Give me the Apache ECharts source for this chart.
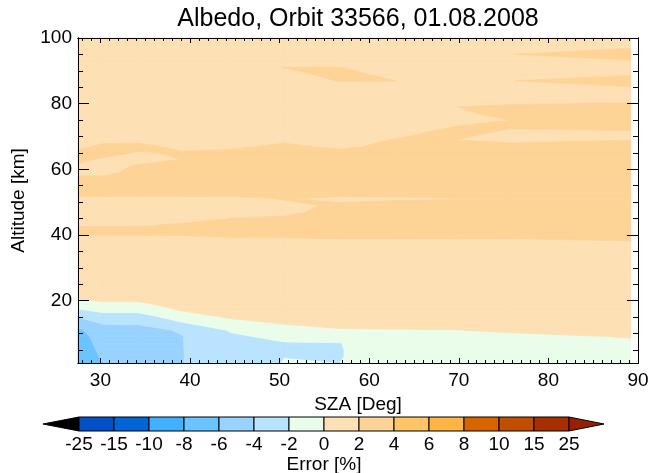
<!DOCTYPE html>
<html><head><meta charset="utf-8">
<script src="https://cdn.jsdelivr.net/npm/echarts@6/dist/echarts.min.js"></script>
<style>html,body{margin:0;padding:0;background:#fff}#c{width:650px;height:473px}</style>
</head><body><div id="c"></div>
<script>
// ---- data ----
const szaList = [27.5, 30.3, 34.2, 39.1, 44.6, 50.5, 56.7, 62.9, 69.4, 75.8, 89.2];
const altList = [1,3,5,7,9,11,13,15,17,19,21,23,25,27,29,31,33,35,37,39,41,43,45,47,49,51,53,55,57,59,61,63,65,67,69,71,73,75,77,79,81,83,85,87,89,91,93,95,97,99,100];
// error [%] per altitude row (rows follow altList), columns follow szaList
const errGrid = [
  [-7.5,-5.9,-5.4,-4.05,-2.9,-1.95,-2.005,-0.8,-0.7,-0.6,-0.5],
  [-7.5,-5.7,-5.3,-4.05,-2.9,-2.02,-2.1,-0.8,-0.7,-0.6,-0.5],
  [-7.2,-5.5,-5.2,-4.05,-2.8,-2.2,-2.1,-0.8,-0.6,-0.5,-0.4],
  [-7.0,-5.3,-5.0,-4.05,-2.6,-2.1,-2.05,-0.7,-0.5,-0.4,-0.2],
  [-6.8,-5.1,-4.8,-4.05,-2.3,-1.6,-1.5,-0.5,-0.4,-0.3,0.05],
  [-6.4,-4.6,-4.5,-3.85,-1.8,-0.8,-0.2,-0.1,-0.05,0.2,0.5],
  [-5.4,-3.9,-3.9,-2.2,-0.9,0.1,0.6,0.6,0.6,0.7,0.8],
  [-3.9,-2.8,-2.8,-1.2,0.3,0.5,0.8,0.8,0.8,0.8,0.9],
  [-2.3,-1.6,-1.6,0.1,0.7,0.8,0.9,0.9,0.9,0.9,1.0],
  [-1.0,-0.3,-0.3,0.6,0.9,0.9,1.0,1.0,1.0,1.0,1.0],
  [0.3,0.6,0.6,0.9,1.0,1.0,1.0,1.0,1.0,1.0,1.0],
  [0.8,0.9,0.9,1.0,1.0,1.0,1.0,1.0,1.0,1.0,1.0],
  [1.0,1.0,1.0,1.0,1.0,1.0,1.0,1.0,1.0,1.0,1.0],
  [1.0,1.0,1.0,1.0,1.0,1.0,1.0,1.0,1.0,1.0,1.0],
  [1.0,1.0,1.0,1.0,1.0,1.0,1.0,1.0,1.0,1.0,1.0],
  [1.0,1.0,1.0,1.0,1.0,1.0,1.0,1.0,1.0,1.0,1.0],
  [1.0,1.0,1.0,1.0,1.0,1.0,1.0,1.0,1.0,1.0,1.0],
  [1.0,1.0,1.0,1.0,1.0,1.0,1.0,1.0,1.0,1.0,1.0],
  [1.1,1.1,1.1,1.1,1.3,1.3,1.3,1.3,1.3,1.35,1.4],
  [1.2,1.2,1.2,1.3,1.9,1.95,2.05,2.05,2.1,2.05,2.4],
  [3.0,3.0,3.0,2.9,2.8,2.8,2.8,2.8,2.8,2.8,2.8],
  [1.7,1.7,1.75,2.3,2.8,2.8,2.8,2.8,2.8,2.8,2.8],
  [1.2,1.2,1.2,1.3,2.05,2.3,2.8,2.8,2.8,2.8,2.8],
  [1.2,1.2,1.2,1.2,1.2,1.5,2.8,2.8,2.8,2.8,2.8],
  [1.3,1.3,1.3,1.3,1.2,1.5,2.3,2.6,2.8,2.8,2.8],
  [1.6,1.6,1.6,1.6,1.5,2.1,1.6,1.8,1.9,2.05,2.8],
  [2.8,2.8,2.8,2.8,2.8,2.8,2.8,2.6,2.8,2.8,2.8],
  [2.9,2.9,2.9,2.8,2.8,2.8,2.8,2.8,2.8,2.8,2.8],
  [2.6,2.6,2.9,2.8,2.8,2.8,2.8,2.8,2.8,2.8,2.8],
  [1.4,1.4,2.7,2.8,2.8,2.8,2.8,2.8,2.8,2.8,2.8],
  [1.6,1.3,2.2,2.3,2.8,2.8,2.8,2.8,2.8,2.8,2.8],
  [2.6,1.7,1.4,2.05,2.8,2.8,2.8,2.8,2.8,2.8,2.8],
  [2.5,2.8,1.8,2.2,2.8,2.8,2.8,2.8,2.8,2.8,2.8],
  [1.4,2.5,2.6,1.4,1.4,2.6,1.4,2.8,2.8,2.5,2.8],
  [1.3,1.3,1.4,1.3,1.3,1.4,1.3,2.1,2.05,1.5,1.98],
  [1.2,1.2,1.2,1.2,1.2,1.2,1.2,1.3,2.8,1.4,1.6],
  [1.2,1.2,1.2,1.2,1.2,1.2,1.2,1.2,2.01,2.3,2.6],
  [1.2,1.2,1.2,1.2,1.2,1.2,1.2,1.2,1.3,2.02,2.8],
  [1.2,1.2,1.2,1.2,1.2,1.2,1.2,1.2,1.6,2.6,2.8],
  [1.2,1.2,1.2,1.2,1.2,1.2,1.2,1.2,1.97,2.3,2.8],
  [1.2,1.2,1.2,1.2,1.2,1.2,1.2,1.2,1.6,1.5,1.6],
  [1.2,1.2,1.2,1.2,1.2,1.2,1.2,1.2,1.2,1.2,1.4],
  [1.2,1.2,1.2,1.2,1.2,1.3,1.3,1.5,1.2,1.3,1.95],
  [1.2,1.2,1.2,1.2,1.2,1.5,2.05,2.01,1.3,1.97,2.8],
  [1.2,1.2,1.2,1.2,1.2,1.2,2.8,1.2,1.2,1.5,1.8],
  [1.2,1.2,1.2,1.2,1.2,2.02,2.05,1.3,1.2,1.3,1.4],
  [1.2,1.2,1.2,1.2,1.2,1.5,1.3,1.2,1.2,1.3,1.9],
  [1.2,1.2,1.2,1.2,1.2,1.2,1.2,1.2,1.2,1.97,2.8],
  [1.2,1.2,1.2,1.2,1.2,1.2,1.2,1.2,1.2,1.4,1.98],
  [1.2,1.2,1.2,1.2,1.2,1.2,1.2,1.2,1.2,1.2,1.5],
  [1.2,1.2,1.2,1.2,1.2,1.2,1.2,1.2,1.2,1.2,1.5]
];
const levels = [-25,-15,-10,-8,-6,-4,-2,0,2,4,6,8,10,15,25];
const levelLabels = ['-25','-15','-10','-8','-6','-4','-2','0','2','4','6','8','10','15','25'];
const bandColors = ['#0050c8','#0066d8','#40b0ff','#6ac4ff','#98d2ff','#b9e3ff','#eafdea',
                    '#fee0b5','#fed396','#fec466','#ffb446','#d86400','#c04e00','#a83000'];
const underColor = '#000000';
const overColor = '#962000';
const xMajorTicks = [30,40,50,60,70,80,90];
const yMajorTicks = [20,40,60,80,100];
const xMinorTicks = [];
for (let v = 28; v <= 90; v++) xMinorTicks.push(v);
const yMinorTicks = [];
for (let v = 5; v <= 100; v += 5) yMinorTicks.push(v);

// ---- helpers ----
const FONT = 'Liberation Sans';
const bandLo = [-1e9].concat(levels);
const bandHi = levels.concat([1e9]);
const bandFill = [underColor].concat(bandColors, [overColor]);

function clipPoly(poly, f) {
  const out = [];
  for (let k = 0; k < poly.length; k++) {
    const a = poly[k], b = poly[(k + 1) % poly.length];
    const fa = f(a), fb = f(b);
    if (fa >= 0) out.push(a);
    if ((fa >= 0) !== (fb >= 0)) {
      const t = fa / (fa - fb);
      out.push([a[0] + t * (b[0] - a[0]), a[1] + t * (b[1] - a[1]), a[2] + t * (b[2] - a[2])]);
    }
  }
  return out;
}

const cells = [];
for (let j = 0; j < altList.length - 1; j++)
  for (let i = 0; i < szaList.length - 1; i++)
    cells.push([szaList[i], altList[j], i, j]);

function renderCell(params, api) {
  const i = api.value(2), j = api.value(3);
  const idx = [[i, j], [i + 1, j], [i + 1, j + 1], [i, j + 1]];
  const corners = idx.map(([a, b]) => {
    const p = api.coord([szaList[a], altList[b]]);
    return [p[0], p[1], errGrid[b][a]];
  });
  const children = [];
  for (let k = 0; k < bandLo.length; k++) {
    const lo = bandLo[k], hi = bandHi[k];
    let poly = clipPoly(corners, p => p[2] - lo);
    if (poly.length < 3) continue;
    poly = clipPoly(poly, p => hi - p[2]);
    if (poly.length < 3) continue;
    children.push({
      type: 'polygon',
      shape: { points: poly.map(p => [p[0], p[1]]) },
      style: { fill: bandFill[k], stroke: bandFill[k], lineWidth: 0.7 }
    });
  }
  return { type: 'group', children };
}

const barItems = [];
for (let k = -1; k <= levels.length - 1; k++) barItems.push([k, 0.5]);

function renderBar(params, api) {
  const k = api.value(0);
  const n = levels.length - 1;
  if (k === -1) {
    const pts = [api.coord([0, 1]), api.coord([-1.03, 0.5]), api.coord([0, 0])];
    return { type: 'polygon', shape: { points: pts }, style: { fill: underColor, stroke: '#000', lineWidth: 1 } };
  }
  if (k === n) {
    const pts = [api.coord([n, 1]), api.coord([n + 1.0, 0.5]), api.coord([n, 0])];
    return { type: 'polygon', shape: { points: pts }, style: { fill: overColor, stroke: '#000', lineWidth: 1 } };
  }
  const p0 = api.coord([k, 1]), p1 = api.coord([k + 1, 0]);
  return { type: 'rect', shape: { x: p0[0], y: p0[1], width: p1[0] - p0[0], height: p1[1] - p0[1] },
           style: { fill: bandColors[k], stroke: '#000', lineWidth: 1 } };
}

const txt = { color: '#000', fontSize: 19, fontFamily: FONT };
const line = { show: true, lineStyle: { color: '#000', width: 1 } };
const gridRect = { left: 78, top: 38, width: 560, height: 325, outerBoundsMode: 'none' };

function xAx(grid, pos, ticks, len, labels) {
  const a = { gridIndex: grid, type: 'value', position: pos, min: 27.5, max: 90, z: 10,
    axisLine: line, splitLine: { show: false },
    axisTick: { show: true, inside: true, length: len, customValues: ticks, lineStyle: { color: '#000', width: 1 } },
    axisLabel: { show: !!labels, customValues: ticks, margin: 8, ...txt } };
  if (labels) Object.assign(a, { name: 'SZA [Deg]', nameLocation: 'middle', nameGap: 30, nameTextStyle: txt });
  return a;
}
function yAx(grid, pos, ticks, len, labels) {
  const a = { gridIndex: grid, type: 'value', position: pos, min: 1, max: 100, z: 10,
    axisLine: line, splitLine: { show: false },
    axisTick: { show: true, inside: true, length: len, customValues: ticks, lineStyle: { color: '#000', width: 1 } },
    axisLabel: { show: !!labels, customValues: ticks, margin: 6, ...txt } };
  if (labels) Object.assign(a, { name: 'Altitude [km]', nameLocation: 'middle', nameGap: 50, nameTextStyle: txt });
  return a;
}

const chart = echarts.init(document.getElementById('c'), null, { renderer: 'canvas' });
chart.setOption({
  animation: false,
  backgroundColor: '#fff',
  grid: [
    gridRect,
    Object.assign({}, gridRect),
    { left: 79, top: 417, width: 490, height: 14, outerBoundsMode: 'none' }
  ],
  xAxis: [
    xAx(0, 'bottom', xMajorTicks, 5, true),
    xAx(0, 'top', xMajorTicks, 5, false),
    xAx(1, 'bottom', xMinorTicks, 3, false),
    xAx(1, 'top', xMinorTicks, 3, false),
    { gridIndex: 2, type: 'value', min: 0, max: 14, position: 'bottom',
      axisLine: { show: false }, axisTick: { show: false }, splitLine: { show: false },
      axisLabel: { show: true, customValues: [0,1,2,3,4,5,6,7,8,9,10,11,12,13,14], margin: 4,
        formatter: v => levelLabels[Math.round(v)], ...txt },
      name: 'Error [%]', nameLocation: 'middle', nameGap: 21, nameTextStyle: txt }
  ],
  yAxis: [
    yAx(0, 'left', yMajorTicks, 11, true),
    yAx(0, 'right', yMajorTicks, 11, false),
    yAx(1, 'left', yMinorTicks, 5, false),
    yAx(1, 'right', yMinorTicks, 5, false),
    { gridIndex: 2, type: 'value', min: 0, max: 1, show: false }
  ],
  graphic: [{
    type: 'text', x: 358, y: 19,
    style: { text: 'Albedo, Orbit 33566, 01.08.2008', font: '25px "Liberation Sans"', fill: '#000',
             align: 'center', verticalAlign: 'middle' }
  }],
  series: [
    { type: 'custom', xAxisIndex: 0, yAxisIndex: 0, renderItem: renderCell, data: cells,
      encode: { x: 0, y: 1 }, silent: true, z: 2 },
    { type: 'custom', xAxisIndex: 4, yAxisIndex: 4, renderItem: renderBar, data: barItems,
      encode: { x: 0, y: 1 }, silent: true, clip: false }
  ]
});
</script></body></html>
